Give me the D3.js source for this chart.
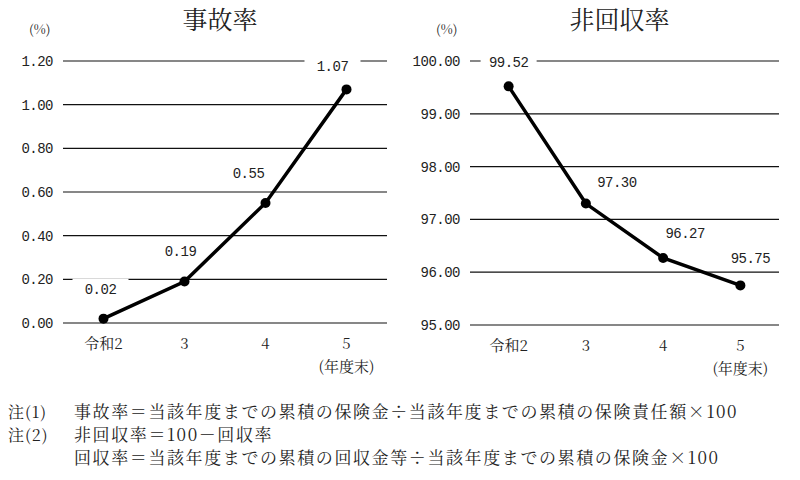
<!DOCTYPE html>
<html><head><meta charset="utf-8">
<script src="https://cdn.jsdelivr.net/npm/d3@7"></script>
<style>
body{margin:0;background:#fff;font-family:"Noto Serif CJK JP","Noto Sans CJK JP",serif;}
text{fill:#222;}
</style></head><body>
<svg id="c" width="800" height="480"></svg>
<script>
const years = ["令和2", "3", "4", "5"];
const accidentRate = [0.02, 0.19, 0.55, 1.07];
const nonRecoveryRate = [99.52, 97.30, 96.27, 95.75];
const accidentTicks = [0, 0.2, 0.4, 0.6, 0.8, 1.0, 1.2];
const nonRecoveryTicks = [95, 96, 97, 98, 99, 100];
const notes = [
  ["注(1)", "事故率＝当該年度までの累積の保険金÷当該年度までの累積の保険責任額×100"],
  ["注(2)", "非回収率＝100－回収率"],
  ["", "回収率＝当該年度までの累積の回収金等÷当該年度までの累積の保険金×100"]
];

const svg = d3.select("#c");
const numFont = "'Liberation Mono','DejaVu Sans Mono',monospace";

function panel(cfg) {
  const x = d3.scaleBand().domain(years).range([cfg.x0, cfg.x1]);
  const y = d3.scaleLinear().domain(cfg.domain).range([cfg.yb, cfg.yt]);
  const g = svg.append("g");

  g.append("text").attr("x", (cfg.x0 + cfg.x1) / 2 - 5).attr("y", 29)
    .attr("text-anchor", "middle").style("font-size", "25px").text(cfg.title);
  g.append("text").attr("x", cfg.x0 - 34).attr("y", 34)
    .style("font-size", "13px").text("(%)");

  g.selectAll(".grid").data(cfg.ticks).enter().append("line")
    .attr("x1", cfg.x0).attr("x2", cfg.x1)
    .attr("y1", d => y(d)).attr("y2", d => y(d))
    .attr("stroke", "#111").attr("stroke-width", 1.2);
  g.selectAll(".tl").data(cfg.ticks).enter().append("text")
    .attr("x", cfg.x0 - 10).attr("y", d => y(d) + 5)
    .attr("text-anchor", "end").style("font-family", numFont).style("font-size", "14px")
    .style("letter-spacing", "-0.5px").text(d => d.toFixed(2));

  g.selectAll(".xl").data(years).enter().append("text")
    .attr("x", d => x(d) + x.bandwidth() / 2).attr("y", cfg.yb + 26)
    .attr("text-anchor", "middle").style("font-size", "15px").text(d => d);
  g.append("text").attr("x", x("5") + x.bandwidth() / 2).attr("y", cfg.yb + 49)
    .attr("text-anchor", "middle").style("font-size", "15px").text("(年度末)");

  const lab = g.selectAll(".lab").data(cfg.values).enter().append("g")
    .attr("transform", (d, i) => `translate(${x(years[i]) + x.bandwidth() / 2 + cfg.off[i][0]},${y(d) + cfg.off[i][1]})`);
  lab.append("rect").attr("x", -28).attr("y", -10).attr("width", 56).attr("height", 20).attr("fill", "#fff");
  lab.append("text").attr("text-anchor", "middle").attr("y", 5)
    .style("font-family", numFont).style("font-size", "14px").style("letter-spacing", "-0.5px")
    .text(d => d.toFixed(2));

  const line = d3.line().x((d, i) => x(years[i]) + x.bandwidth() / 2).y(d => y(d));
  g.append("path").datum(cfg.values).attr("d", line)
    .attr("fill", "none").attr("stroke", "#000").attr("stroke-width", 3.5);
  g.selectAll(".pt").data(cfg.values).enter().append("circle")
    .attr("cx", (d, i) => x(years[i]) + x.bandwidth() / 2).attr("cy", d => y(d))
    .attr("r", 5).attr("fill", "#000");
}

panel({title: "事故率", x0: 63, x1: 387, yt: 61, yb: 323, domain: [0, 1.2],
  ticks: accidentTicks, values: accidentRate,
  off: [[-3, -30], [-4, -31], [-17, -30], [-14, -23]]});
panel({title: "非回収率", x0: 470, x1: 779, yt: 61, yb: 325, domain: [95, 100],
  ticks: nonRecoveryTicks, values: nonRecoveryRate,
  off: [[0, -24], [31, -22], [22, -25], [10, -27]]});

const nt = svg.selectAll(".note").data(notes).enter().append("g")
  .attr("transform", (d, i) => `translate(0,${418 + i * 23})`);
nt.append("text").attr("x", 8).style("font-size", "16px").style("letter-spacing", "1px").text(d => d[0]);
nt.append("text").attr("x", 74).style("font-size", "17px").style("letter-spacing", "1.6px").text(d => d[1]);
</script>
</body></html>
